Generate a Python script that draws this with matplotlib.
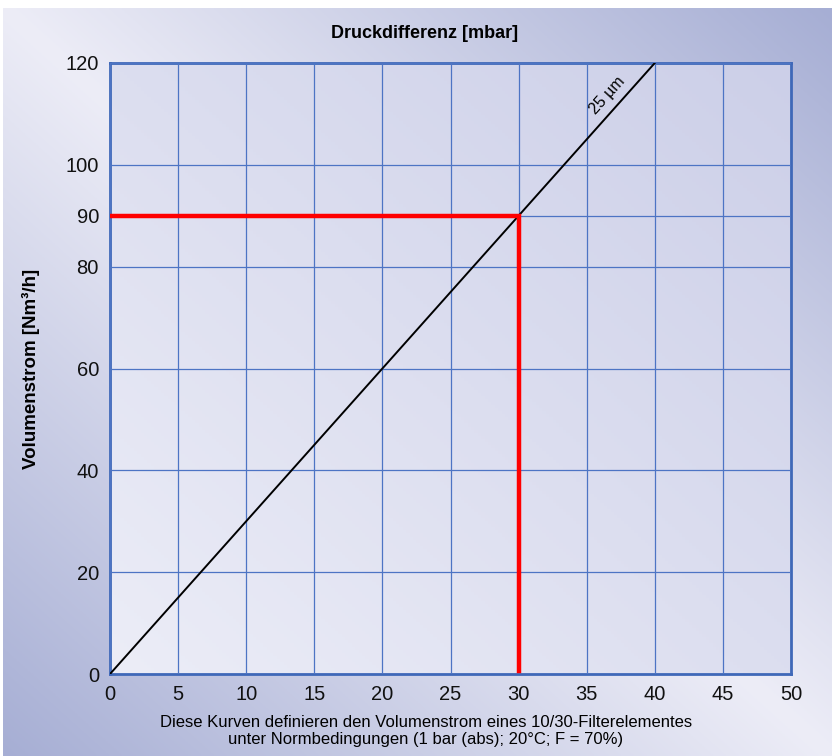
import matplotlib.pyplot as plt
import numpy as np

# data
druck = [0, 40]            # mbar
volumen = [0, 120]         # Nm3/h  (25 um curve)
sel_druck = 30
sel_volumen = 90
x_ticks = list(range(0, 55, 5))
y_ticks = [0, 20, 40, 60, 80, 90, 100, 120]

plt.rcParams['font.family'] = ['Liberation Sans', 'DejaVu Sans']

fig = plt.figure(figsize=(8.32, 7.56), dpi=100)

# background panel with diagonal gradient
bg = fig.add_axes([3 / 832, 0, 1 - 3 / 832, 748 / 756])
bg.set_axis_off()
u = np.linspace(0, 1, 300)
v = np.linspace(0, 1, 300)
U, V = np.meshgrid(u, v)
t = np.abs(U - V)[..., None]
light = np.array([237, 237, 247]) / 255
dark = np.array([166, 174, 212]) / 255
bg.imshow(light * (1 - t) + dark * t, aspect='auto', extent=(0, 1, 1, 0))

ax = fig.add_axes([110 / 832, 82 / 756, 681 / 832, 611 / 756])
ax.set_xlim(0, 50)
ax.set_ylim(0, 120)

# plot area gradient
s = np.linspace(0, 1, 200)
S1, S2 = np.meshgrid(s, s)
tt = ((S1 + S2) / 2)[..., None]
p_light = np.array([236, 237, 247]) / 255
p_dark = np.array([204, 207, 232]) / 255
ax.imshow(p_light * (1 - tt) + p_dark * tt, aspect='auto', extent=(0, 50, 0, 120),
          origin='lower', zorder=0)

ax.set_xticks(x_ticks)
ax.set_yticks(y_ticks)
ax.grid(True, color='#4d74c4', linewidth=0.9, zorder=1)
ax.set_axisbelow(False)
ax.tick_params(length=0, labelsize=14.5, pad=8, colors='#111111')
for sp in ax.spines.values():
    sp.set_color('#3f68b8')
    sp.set_linewidth(2)

ax.plot(druck, volumen, color='black', linewidth=1.4, zorder=3)
ax.plot([0, sel_druck, sel_druck], [sel_volumen, sel_volumen, 0.6],
        color='#ff0000', linewidth=3.2, solid_joinstyle='miter', zorder=4)

ax.text(36.5, 113.6, '25 µm', rotation=48, ha='center', va='center',
        fontsize=11.5, zorder=5)

fig.text(425 / 832, 1 - 33 / 756, 'Druckdifferenz [mbar]', ha='center', va='center',
         fontsize=13, fontweight='bold')
fig.text(31 / 832, 1 - 369 / 756, 'Volumenstrom [Nm³/h]', ha='center', va='center',
         rotation=90, fontsize=13.5, fontweight='bold')
fig.text(426 / 832, 1 - 731 / 756,
         'Diese Kurven definieren den Volumenstrom eines 10/30-Filterelementes\n'
         'unter Normbedingungen (1 bar (abs); 20°C; F = 70%)',
         ha='center', va='center', fontsize=12, linespacing=1.1)

fig.savefig('out.png', dpi=100, facecolor='white')
